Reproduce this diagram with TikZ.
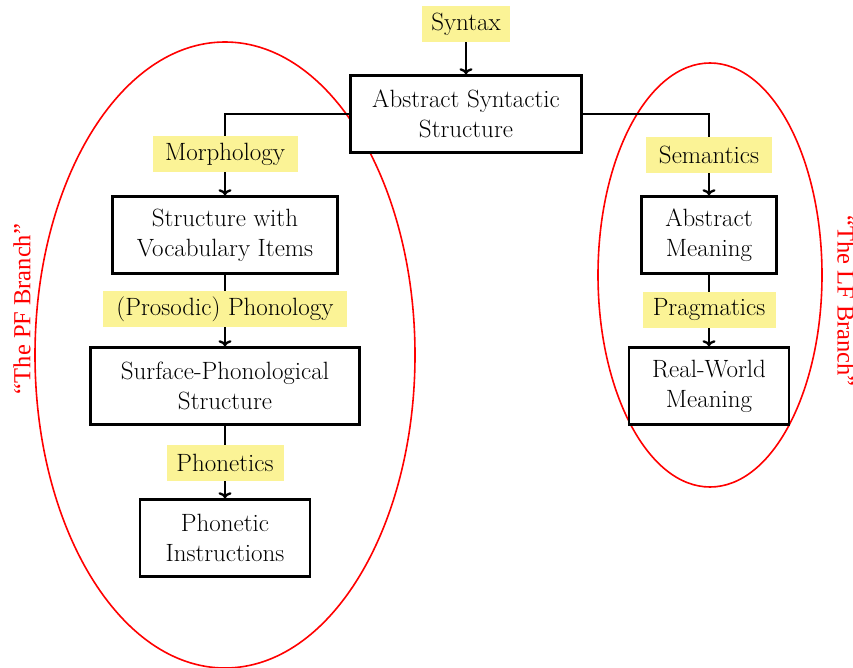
\documentclass[tikz,border=0pt]{standalone}
\usepackage{fontspec}
\usetikzlibrary{arrows.meta}
\newfontfamily\redfont{Liberation Serif}
\definecolor{hl}{RGB}{251,243,150}
\begin{document}
\begin{tikzpicture}[x=1pt,y=-1pt,
  box/.style={draw=black,line width=2.6pt,fill=white,align=center,minimum height=77pt,inner sep=0pt,font=\fontsize{25}{30}\selectfont},
  lab/.style={fill=hl,inner sep=0pt,minimum height=36pt,font=\fontsize{25}{28}\selectfont},
  arr/.style={line width=2.3pt,-{Computer Modern Rightarrow[length=6pt,width=13pt]}},
  branch/.style={draw=red,line width=1.6pt},
  btext/.style={text=red,font=\redfont\fontsize{24.5}{28}\selectfont}]
\useasboundingbox (0,0) rectangle (853,668);
% ellipses
\draw[branch] (225,355) ellipse [x radius=190, y radius=313];
\draw[branch] (710,275) ellipse [x radius=112, y radius=212];
% nodes
\node[lab,minimum width=88pt] (syn) at (466,24) {Syntax};
\node[box,minimum width=231pt] (ass) at (466,114) {Abstract Syntactic\\Structure};
\node[box,minimum width=225pt] (svi) at (225,235) {Structure with\\Vocabulary Items};
\node[box,minimum width=269pt] (sps) at (225,386) {Surface-Phonological\\Structure};
\node[box,minimum width=170pt] (pi) at (225,538) {Phonetic\\Instructions};
\node[box,minimum width=135pt] (am) at (709,235) {Abstract\\Meaning};
\node[box,minimum width=160pt] (rwm) at (709,386) {Real-World\\Meaning};
\coordinate (lc) at (225,114);
\coordinate (rc) at (709,114);
% connectors
\draw[arr] (syn) -- (ass);
\draw[arr] (ass.west) -- (lc) -- (svi.north);
\draw[arr] (ass.east) -- (rc) -- (am.north);
\draw[arr] (svi) -- (sps);
\draw[arr] (sps) -- (pi);
\draw[arr] (am) -- (rwm);
% labels on connectors
\node[lab,minimum width=145pt] (morph) at (225,154) {Morphology};
\node[lab,minimum width=244pt] (pros) at (225,309) {(Prosodic) Phonology};
\node[lab,minimum width=117pt] (phon) at (225,463) {Phonetics};
\node[lab,minimum width=126pt] (sem) at (709,155) {Semantics};
\node[lab,minimum width=133pt] (prag) at (709,310) {Pragmatics};
% branch labels
\node[btext,rotate=90] (pf) at (22,309) {“The PF Branch”};
\node[btext,rotate=-90] (lf) at (846,301) {“The LF Branch”};
\end{tikzpicture}
\end{document}
